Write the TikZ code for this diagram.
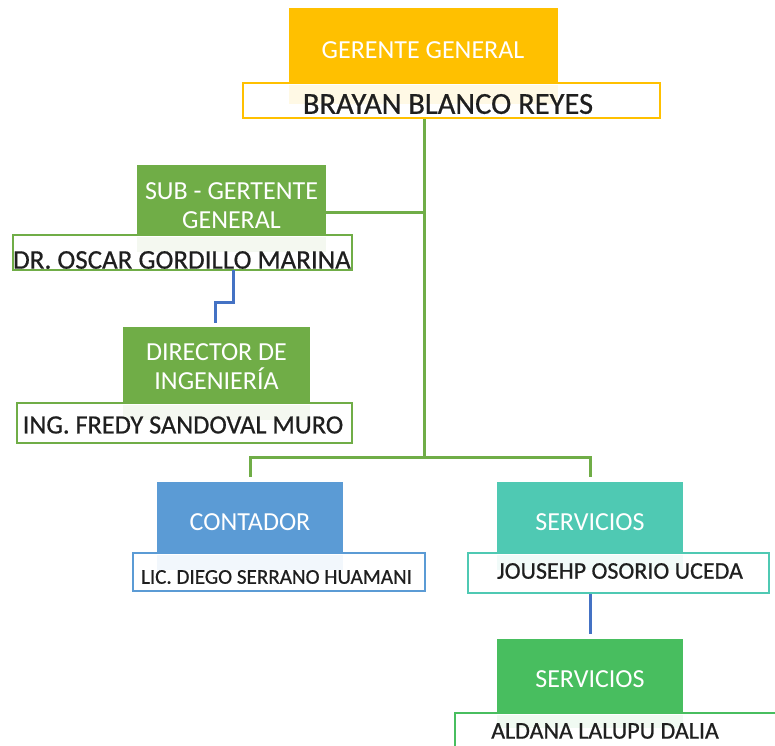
\documentclass[tikz,border=0pt]{standalone}
\usepackage{fontspec}
\setmainfont{Carlito}
\newfontfamily\namefont[FakeBold=0.6]{Carlito}
\definecolor{gold}{HTML}{FFC000}
\definecolor{leaf}{HTML}{70AD47}
\definecolor{sky}{HTML}{5B9BD5}
\definecolor{teal2}{HTML}{4FC9B3}
\definecolor{grass}{HTML}{48BE5F}
\definecolor{link}{HTML}{4472C4}
\begin{document}
\begin{tikzpicture}[x=1pt,y=-1pt,
  tbox/.style={rectangle, draw=none, inner sep=0pt},
  nbox/.style={rectangle, draw, fill=white, line width=2.5pt, inner sep=0pt},
  ttext/.style={text=white, font=\fontsize{26}{29}\selectfont, align=center, inner sep=0pt},
  ntext/.style={text=black!88, inner sep=0pt},
  gline/.style={draw=leaf, line width=3pt},
  bline/.style={draw=link, line width=3pt}]
\useasboundingbox (0,0) rectangle (775,745);
\clip (0,0) rectangle (775,745);
\fill[white] (0,0) rectangle (775,745);

% Gerente general
\node[tbox, fill=gold, minimum width=269pt, minimum height=75pt] (g) at (423.5,45.5) {};
\node[nbox, draw=gold, minimum width=417pt, minimum height=35pt] (gn) at (451.5,100.5) {};
\fill[gold!10] (289,84.5) rectangle (558,104);
\node[ttext] (gT) at (423,50) {GERENTE GENERAL};
\node[ntext, font=\namefont\fontsize{30.5}{31}\selectfont] (gN) at (448,104) {BRAYAN BLANCO REYES};

% Sub-gerente
\node[tbox, fill=leaf, minimum width=189pt, minimum height=70pt] (s) at (231.5,200) {};
\node[nbox, draw=leaf, minimum width=339pt, minimum height=35pt] (sn) at (182.5,252.5) {};
\fill[leaf!8] (137,236.5) rectangle (326,252);
\node[ttext] (sT) at (231.5,206) {SUB - GERTENTE\\GENERAL};
\node[ntext, font=\namefont\fontsize{27}{28}\selectfont] (sN) at (182,260) {DR. OSCAR GORDILLO MARINA};

% Director
\node[tbox, fill=leaf, minimum width=187pt, minimum height=76pt] (d) at (216.5,365) {};
\node[nbox, draw=leaf, minimum width=335pt, minimum height=40pt] (dn) at (184.5,423) {};
\fill[leaf!8] (123,404.5) rectangle (310,420);
\node[ttext] (dT) at (216.5,367) {DIRECTOR DE\\INGENIERÍA};
\node[ntext, font=\namefont\fontsize{26.3}{27}\selectfont] (dN) at (183,425) {ING. FREDY SANDOVAL MURO};

% Contador
\node[tbox, fill=sky, minimum width=186pt, minimum height=71pt] (c) at (250,517.5) {};
\node[nbox, draw=sky, minimum width=292pt, minimum height=38pt] (cn) at (279,572) {};
\fill[sky!8] (157,554.5) rectangle (343,570);
\node[ttext] (cT) at (250,522) {CONTADOR};
\node[ntext, font=\namefont\fontsize{21.1}{22}\selectfont] (cN) at (276.5,577) {LIC. DIEGO SERRANO HUAMANI};

% Servicios
\node[tbox, fill=teal2, minimum width=186pt, minimum height=71pt] (v) at (590,517.5) {};
\node[nbox, draw=teal2, minimum width=301pt, minimum height=40pt] (vn) at (618.5,573) {};
\fill[teal2!8] (497,554.5) rectangle (683,570);
\node[ttext] (vT) at (590,522) {SERVICIOS};
\node[ntext, font=\namefont\fontsize{24}{25}\selectfont] (vN) at (620,571) {JOUSEHP OSORIO UCEDA};

% Servicios 2
\node[tbox, fill=grass, minimum width=186pt, minimum height=74pt] (w) at (590,676) {};
\node[nbox, draw=grass, minimum width=335pt, minimum height=50pt] (wn) at (622.5,738) {};
\fill[grass!8] (497,714.5) rectangle (683,728);
\node[ttext] (wT) at (590,679) {SERVICIOS};
\node[ntext, font=\namefont\fontsize{24}{25}\selectfont] (wN) at (605,731) {ALDANA LALUPU DALIA};

% Connectors
\coordinate (j) at (424,457);
\coordinate (k) at (424,212);
\draw[gline] (gn.south -| j) -- (j);
\draw[gline] (s.east |- k) -- (k);
\draw[gline] ([yshift=5pt]c.north) |- (j) -| ([yshift=5pt]v.north);
\coordinate (b1) at (233,270);
\coordinate (b2) at (233,302);
\coordinate (b3) at (215,302);
\coordinate (b4) at (215,323);
\draw[bline] (b1) -- (b2) -- (b3) -- (b4);
\draw[bline] (vn.south -| w.north) -- ([yshift=5pt]w.north);
\end{tikzpicture}
\end{document}
